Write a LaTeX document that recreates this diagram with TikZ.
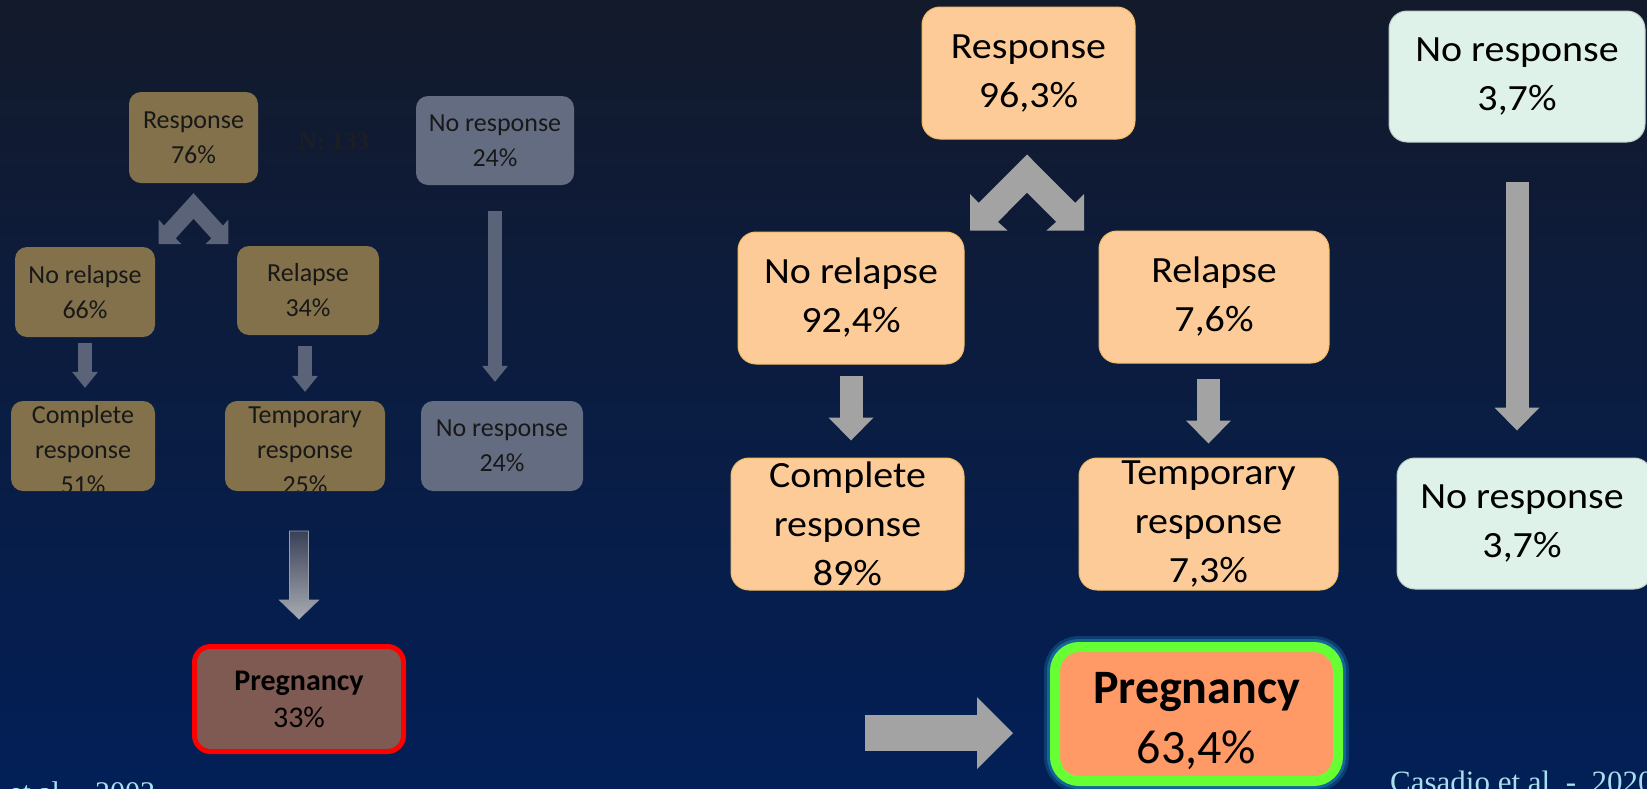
\documentclass[tikz,border=0pt]{standalone}
\usepackage{fontspec}
\setmainfont{Carlito}
\newfontfamily\rfam[FakeStretch=1.08]{Carlito}
\newfontfamily\serifR{Liberation Serif}
\usetikzlibrary{arrows.meta,calc}

\definecolor{bgtop}{RGB}{19,26,43}
\definecolor{bgbot}{RGB}{2,31,87}
\definecolor{peach}{RGB}{253,203,152}
\definecolor{peachline}{RGB}{240,190,100}
\definecolor{mint}{RGB}{222,242,234}
\definecolor{mintline}{RGB}{190,205,200}
\definecolor{ltan}{RGB}{130,113,75}
\definecolor{lslate}{RGB}{100,108,130}
\definecolor{dimarrow}{RGB}{90,99,120}
\definecolor{lightarrow}{RGB}{163,163,163}
\definecolor{coral}{RGB}{255,153,102}
\definecolor{greenb}{RGB}{102,255,51}
\definecolor{glowc}{RGB}{30,140,190}
\definecolor{brownbox}{RGB}{127,90,83}
\definecolor{citec}{RGB}{170,222,236}
\definecolor{dimtext}{RGB}{24,24,24}
\definecolor{ntext}{RGB}{28,30,36}
\definecolor{garrtop}{RGB}{57,65,88}
\definecolor{garrbot}{RGB}{168,171,177}
\definecolor{garrline}{RGB}{150,156,168}

\tikzset{
  rpeach/.style={draw=peachline, line width=1pt, fill=peach, rounded corners=18pt,
    align=center, inner sep=0pt, text=black, font=\rfam\fontsize{37}{49}\selectfont},
  rmint/.style={rpeach, draw=mintline, fill=mint},
  lbox/.style={fill=ltan, rounded corners=12pt, align=center, inner sep=0pt,
    text=dimtext, font=\fontsize{26}{35}\selectfont},
  lgrey/.style={lbox, fill=lslate},
  ltext/.style={align=center, inner sep=0pt, text=dimtext, font=\fontsize{26}{35}\selectfont},
  rarr/.style={draw=lightarrow, line width=23pt, -{Triangle[length=23pt, width=45pt, line width=0pt]}},
  rarrh/.style={draw=lightarrow, line width=36pt, -{Triangle[length=36pt, width=72pt, line width=0pt]}},
  larr/.style={draw=dimarrow, line width=14pt, -{Triangle[length=16pt, width=26pt, line width=0pt]}},
  lpreg/.style={draw=red, line width=5pt, fill=brownbox, rounded corners=16pt, align=center,
    inner sep=0pt, text=black, font=\fontsize{30}{37}\selectfont},
  rpreg/.style={draw=greenb, line width=10pt, fill=coral, rounded corners=24pt,
    inner sep=0pt,
    preaction={draw=glowc, line width=22pt, draw opacity=0.3},
    preaction={draw=glowc, line width=16pt, draw opacity=0.5}},
  rpregtext/.style={align=center, inner sep=0pt, text=black, font=\fontsize{48}{60}\selectfont},
  cite/.style={anchor=base west, inner sep=0pt, text=citec},
}

\begin{document}
\begin{tikzpicture}[x=1pt,y=-1pt]
\useasboundingbox (0,0) rectangle (1647,788);
\clip (0,0) rectangle (1647,788);
\fill[top color=bgtop, bottom color=bgbot] (0,0) rectangle (1647,788);

% ---------- left (dimmed) diagram ----------
\node[lbox, minimum width=129pt, minimum height=91pt] (L_resp) at (193.5,137.5) {Response\\76\%};
\node[lgrey, minimum width=158pt, minimum height=89pt] (L_nr1) at (495,140.5) {No response\\24\%};
\node[font=\serifR\bfseries\fontsize{25}{25}\selectfont, text=ntext, inner sep=0pt] (L_n) at (334,141) {N: 133};
\node[lbox, minimum width=140pt, minimum height=90pt] (L_norel) at (85,292) {No relapse\\66\%};
\node[lbox, minimum width=142pt, minimum height=89pt] (L_rel) at (308,290.5) {Relapse\\34\%};
\node[lbox, minimum width=144pt, minimum height=90pt] (L_comp) at (83,446) {};
\node[lbox, minimum width=160pt, minimum height=90pt] (L_temp) at (305,446) {};
\node[lgrey, minimum width=162pt, minimum height=90pt] (L_nr2) at (502,446) {No response\\24\%};
\begin{scope}
  \clip (0,0) rectangle (1647,490);
  \node[ltext] (L_compT) at ([yshift=-4pt]L_comp.center) {Complete\\response\\51\%};
  \node[ltext] (L_tempT) at ([yshift=-4pt]L_temp.center) {Temporary\\response\\25\%};
\end{scope}

\coordinate (chL) at ($(L_resp.south)+(0,10)$);
\begin{scope}[shift={(chL)}, xscale=0.61, yscale=0.67]
  \fill[dimarrow] (0,0) -- (-48.25,48.3) -- (-57,39.5) -- (-57,76.1) -- (-19.4,76.1) -- (-29.15,67.4)
    -- (0,38.2) -- (29.15,67.4) -- (19.4,76.1) -- (57,76.1) -- (57,39.5) -- (48.25,48.3) -- cycle;
\end{scope}

\draw[larr, shorten <=6pt, shorten >=13pt] (L_norel.south) -- (L_norel.south |- L_comp.north);
\draw[larr, shorten <=11pt, shorten >=9pt] (L_temp.north |- L_rel.south) -- (L_temp.north);
\draw[larr, shorten <=26pt, shorten >=19pt] (L_nr1.south) -- (L_nr1.south |- L_nr2.north);

\node[lpreg, minimum width=209pt, minimum height=105pt] (L_preg) at (299,699) {\textbf{Pregnancy}\\33\%};
\coordinate (gtip) at ($(L_preg.north)+(0,-25)$);
\coordinate (gtop) at ($(gtip)+(0,-88)$);
\path[top color=garrtop, bottom color=garrbot, draw=garrline, line width=0.8pt]
  ($(gtop)+(-9.5,0)$) -- ($(gtop)+(9.5,0)$) -- ($(gtip)+(9.5,-19)$) -- ($(gtip)+(19.5,-19)$)
  -- (gtip) -- ($(gtip)+(-19.5,-19)$) -- ($(gtip)+(-9.5,-19)$) -- cycle;

\node[cite, font=\serifR\fontsize{30}{30}\selectfont] (citeL) at (9,802) {et al. - 2002};

% ---------- right diagram ----------
\node[rpeach, minimum width=213pt, minimum height=132pt] (R_resp) at (1028.5,73) {Response\\96,3\%};
\node[rmint, minimum width=256pt, minimum height=131pt] (R_nr1) at (1517,76.5) {No response\\3,7\%};
\node[rpeach, minimum width=226pt, minimum height=132pt] (R_norel) at (851,298) {No relapse\\92,4\%};
\node[rpeach, minimum width=230pt, minimum height=132pt] (R_rel) at (1214,297) {Relapse\\7,6\%};
\node[rpeach, minimum width=233pt, minimum height=132pt] (R_comp) at (847.5,524) {Complete\\response\\89\%};
\node[rpeach, minimum width=259pt, minimum height=132pt] (R_temp) at (1208.5,524) {Temporary\\response\\7,3\%};
\node[rmint, minimum width=255pt, minimum height=131pt] (R_nr2) at (1524.5,523.5) {};
\node[rpeach, draw=none, fill=none, font=\rfam\fontsize{37}{49}\selectfont] (R_nr2T) at (1522,523.5) {No response\\3,7\%};

\coordinate (chR) at ($(R_resp.south)+(-1.5,15)$);
\begin{scope}[shift={(chR)}]
  \fill[lightarrow] (0,0) -- (-48.25,48.3) -- (-57,39.5) -- (-57,76.1) -- (-19.4,76.1) -- (-29.15,67.4)
    -- (0,38.2) -- (29.15,67.4) -- (19.4,76.1) -- (57,76.1) -- (57,39.5) -- (48.25,48.3) -- cycle;
\end{scope}

\draw[rarr, shorten <=11pt, shorten >=17pt] (R_norel.south) -- (R_norel.south |- R_comp.north);
\draw[rarr, shorten <=15pt, shorten >=14pt] (R_temp.north |- R_rel.south) -- (R_temp.north);
\draw[rarr, shorten <=39pt, shorten >=27pt] (R_nr1.south) -- (R_nr1.south |- R_nr2.north);

\node[rpreg, minimum width=283pt, minimum height=134pt] (R_preg) at (1196.5,714) {};
\node[rpregtext] (R_pregT) at ([yshift=-7pt]R_preg.center) {\textbf{Pregnancy}\\63,4\%};
\coordinate (hstart) at (865,733);
\draw[rarrh, shorten >=37pt] (hstart) -- (hstart -| R_preg.west);

\node[cite, font=\serifR\fontsize{31}{31}\selectfont] (citeR) at (1390,792) {Casadio et al\ \ -\ \ 2020};
\end{tikzpicture}
\end{document}
